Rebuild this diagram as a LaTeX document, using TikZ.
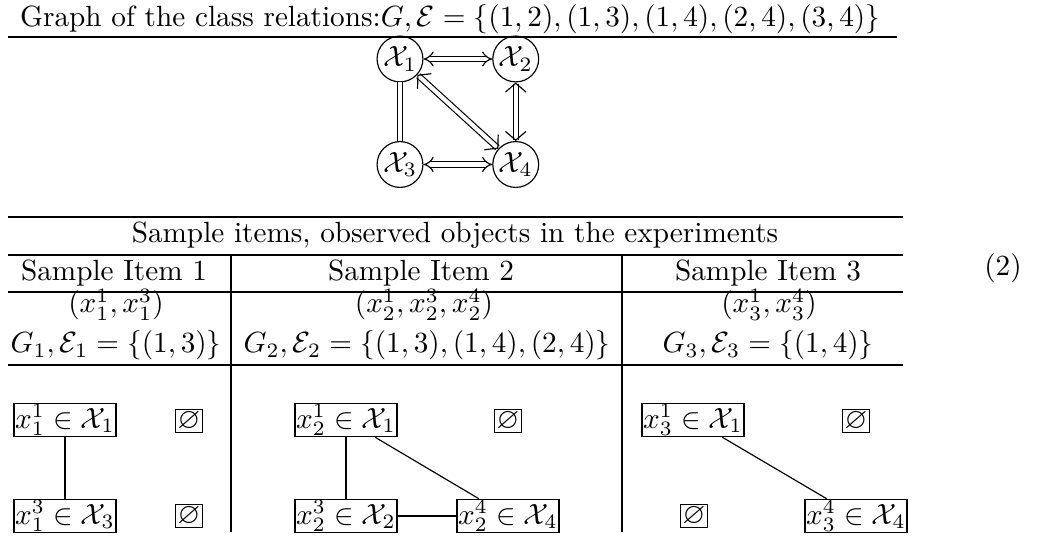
\documentclass[tikz,border=0pt]{standalone}
\usepackage{amssymb}
\usetikzlibrary{arrows.meta,positioning}

\begin{document}
\begin{tikzpicture}[
    x=0.342pt, y=-0.342pt,
    node distance=20pt and 23.5pt,
    cls/.style={draw, circle, inner sep=0.5pt, minimum size=15pt},
    obs/.style={draw, inner sep=0.4pt},
    none/.style={draw, inner sep=0.6pt},
    txt/.style={anchor=base, inner sep=0pt},
    rel/.style={double, double distance=1.4pt},
    dbl/.style={rel, {Implies[scale=1.6]}-{Implies[scale=1.6]}},
    thinarr/.style={rel, {Straight Barb[length=3pt,width=7pt,line width=0.4pt]}-{Straight Barb[length=3pt,width=7pt,line width=0.4pt]}}
  ]
    \useasboundingbox (0,0) rectangle (1039,536);

    % class relation graph
    \node[txt] (title) at (450,27) {Graph of the class relations:$G,\mathcal{E}=\{(1,2),(1,3),(1,4),(2,4),(3,4)\}$};
    \draw (8,37) -- (897,37);
    \node[cls] (X1) at (400,59) {$\mathcal{X}_1$};
    \node[cls, right=of X1] (X2) {$\mathcal{X}_2$};
    \node[cls, below=of X1] (X3) {$\mathcal{X}_3$};
    \node[cls, below=of X2] (X4) {$\mathcal{X}_4$};

    \draw[dbl] (X1) -- (X2);
    \draw[dbl] (X3) -- (X4);
    \draw[rel] (X1) -- (X3);
    \draw[thinarr] (X2) -- (X4);
    \draw[thinarr] (X1) -- (X4);

    % table of sample items
    \draw (8,217) -- (903,217);
    \draw (8,255) -- (903,255);
    \draw (8,292) -- (903,292);
    \draw (8,365) -- (903,365);
    \draw (231,255) -- (231,532);
    \draw (622,255) -- (622,532);

    \node[txt] (head) at (455,243) {Sample items, observed objects in the experiments};
    \node[txt] (h1) at (114,281) {Sample Item 1};
    \node[txt] (h2) at (421,281) {Sample Item 2};
    \node[txt] (h3) at (768,281) {Sample Item 3};
    \node[txt] (t1) at (116,313) {$(x_1^1,x_1^3)$};
    \node[txt] (t2) at (424,313) {$(x_2^1,x_2^3,x_2^4)$};
    \node[txt] (t3) at (769,313) {$(x_3^1,x_3^4)$};
    \node[txt] (g1) at (116,353) {$G_1,\mathcal{E}_1=\{(1,3)\}$};
    \node[txt] (g2) at (427,353) {$G_2,\mathcal{E}_2=\{(1,3),(1,4),(2,4)\}$};
    \node[txt] (g3) at (768,353) {$G_3,\mathcal{E}_3=\{(1,4)\}$};

    % item 1
    \node[obs] (i1x1) at (65,420) {$x_1^1\in\mathcal{X}_1$};
    \node[none] (i1e1) at (189,421) {$\varnothing$};
    \node[obs] (i1x3) at (65,516) {$x_1^3\in\mathcal{X}_3$};
    \node[none] (i1e3) at (189,516) {$\varnothing$};
    \draw (i1x1) -- (i1x3);

    % item 2
    \node[obs] (i2x1) at (346,420) {$x_2^1\in\mathcal{X}_1$};
    \node[none] (i2e) at (508,421) {$\varnothing$};
    \node[obs] (i2x3) at (346,516) {$x_2^3\in\mathcal{X}_2$};
    \node[obs] (i2x4) at (508,516) {$x_2^4\in\mathcal{X}_4$};
    \draw (i2x1) -- (i2x3);
    \draw (i2x1) -- (i2x4);
    \draw (i2x3) -- (i2x4);

    % item 3
    \node[obs] (i3x1) at (693,420) {$x_3^1\in\mathcal{X}_1$};
    \node[none] (i3ea) at (856,421) {$\varnothing$};
    \node[none] (i3eb) at (694,516) {$\varnothing$};
    \node[obs] (i3x4) at (856,516) {$x_3^4\in\mathcal{X}_4$};
    \draw (i3x1) -- (i3x4);

    \node (eqno) at (1003,268) {(2)};
  \end{tikzpicture}
\end{document}
